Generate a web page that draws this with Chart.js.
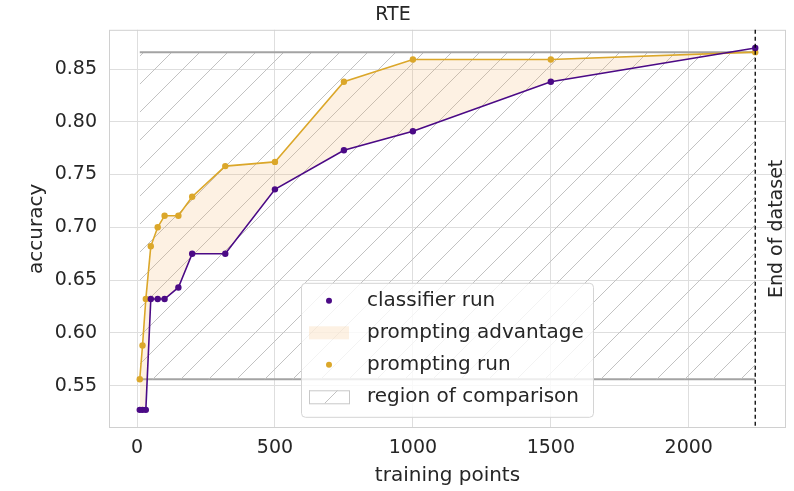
<!DOCTYPE html>
<html><head><meta charset="utf-8">
<script src="https://cdn.jsdelivr.net/npm/chart.js@4.4.1/dist/chart.umd.min.js"></script>
<style>html,body{margin:0;padding:0;background:#fff;} #wrap{width:794px;height:491px;}</style>
</head><body><div id="wrap"><canvas id="c" width="794" height="491"></canvas></div>
<script>
// ---- data ----
const trainingPoints = [10, 20, 32, 50, 75, 100, 150, 200, 320, 500, 750, 1000, 1500, 2241];
const classifierAcc  = [0.527, 0.527, 0.527, 0.632, 0.632, 0.632, 0.643, 0.675, 0.675, 0.736, 0.773, 0.791, 0.838, 0.870];
const promptingAcc   = [0.556, 0.588, 0.632, 0.682, 0.700, 0.711, 0.711, 0.729, 0.758, 0.762, 0.838, 0.859, 0.859, 0.866];
const regionX = [10, 2241];
const regionY = [0.556, 0.866];
const endOfDataset = 2241;
const xTicks = [0, 500, 1000, 1500, 2000];
const yTicks = [0.55, 0.60, 0.65, 0.70, 0.75, 0.80, 0.85];
const legendLabels = ['classifier run', 'prompting advantage', 'prompting run', 'region of comparison'];
const titleText = 'RTE';
const xTitle = 'training points';
const yTitle = 'accuracy';
const endLabel = 'End of dataset';

// ---- styles ----
const FONT = '"DejaVu Sans", sans-serif';
const PURPLE = '#4b0a86';
const GOLD = '#dba72a';
const PEACH = 'rgba(245,180,100,0.18)';
const REGION_LINE = '#a3a3a3';
const TEXT = '#262626';
const GRID = '#dedede';

const canvas = document.getElementById('c');
const ctx = canvas.getContext('2d');
function makeHatch() {
  const s = 28;
  const c = document.createElement('canvas');
  c.width = s; c.height = s;
  const g = c.getContext('2d');
  g.strokeStyle = '#c2c2c2';
  g.lineWidth = 1;
  g.beginPath();
  g.moveTo(0, s); g.lineTo(s, 0);
  g.moveTo(-3, 3); g.lineTo(3, -3);
  g.moveTo(s - 3, s + 3); g.lineTo(s + 3, s - 3);
  g.stroke();
  return ctx.createPattern(c, 'repeat');
}
const HATCH = makeHatch();

const toPts = (xs, ys) => xs.map((x, i) => ({ x: x, y: ys[i] }));

const extras = {
  id: 'extras',
  beforeDatasetsDraw(chart) {
    const { ctx, chartArea: a } = chart;
    ctx.save();
    ctx.strokeStyle = '#d0d0d0';
    ctx.lineWidth = 1;
    ctx.strokeRect(a.left + 0.5, a.top + 0.5, a.right - a.left - 1, a.bottom - a.top - 1);
    ctx.restore();
  },
  afterDatasetsDraw(chart) {
    const { ctx, chartArea: a, scales } = chart;
    const px = scales.x.getPixelForValue(endOfDataset);
    ctx.save();
    ctx.strokeStyle = '#000';
    ctx.lineWidth = 1.3;
    ctx.setLineDash([4, 3]);
    ctx.beginPath();
    ctx.moveTo(px, a.top); ctx.lineTo(px, a.bottom);
    ctx.stroke();
    ctx.setLineDash([]);
    ctx.translate(px + 22, (a.top + a.bottom) / 2);
    ctx.rotate(-Math.PI / 2);
    ctx.font = '19px ' + FONT;
    ctx.fillStyle = TEXT;
    ctx.textAlign = 'center';
    ctx.textBaseline = 'middle';
    ctx.fillText(endLabel, 0, 0);
    ctx.restore();
  },
  afterDraw(chart) {
    const { ctx, chartArea: a } = chart;
    const bx = a.left + 192, by = a.top + 253, bw = 292, bh = 134;
    ctx.save();
    ctx.beginPath();
    ctx.roundRect(bx + 0.5, by + 0.5, bw, bh, 4);
    ctx.fillStyle = 'rgba(255,255,255,0.8)';
    ctx.fill();
    ctx.strokeStyle = '#d4d4d4';
    ctx.lineWidth = 1;
    ctx.stroke();
    const mx = bx + 28, tx = bx + 66;
    const rowY = i => by + 18 + i * 32;
    ctx.font = '20px ' + FONT;
    ctx.fillStyle = TEXT;
    ctx.textBaseline = 'middle';
    ctx.textAlign = 'left';
    legendLabels.forEach((t, i) => { ctx.fillStyle = TEXT; ctx.fillText(t, tx, rowY(i)); });
    // markers
    ctx.fillStyle = PURPLE;
    ctx.beginPath(); ctx.arc(mx, rowY(0), 3, 0, Math.PI * 2); ctx.fill();
    ctx.fillStyle = PEACH;
    ctx.fillRect(mx - 20, rowY(1) - 6.5, 40, 13);
    ctx.fillStyle = GOLD;
    ctx.beginPath(); ctx.arc(mx, rowY(2), 3, 0, Math.PI * 2); ctx.fill();
    ctx.fillStyle = HATCH;
    ctx.fillRect(mx - 20, rowY(3) - 6.5, 40, 13);
    ctx.strokeStyle = '#c8c8c8';
    ctx.strokeRect(mx - 20 + 0.5, rowY(3) - 6.5 + 0.5, 40, 13);
    ctx.restore();
  }
};

new Chart(ctx, {
  type: 'line',
  data: {
    datasets: [
      { label: legendLabels[0], data: toPts(trainingPoints, classifierAcc), borderColor: PURPLE, backgroundColor: PURPLE,
        borderWidth: 1.6, pointRadius: 3.2, pointBorderWidth: 0, fill: false, tension: 0 },
      { label: legendLabels[2], data: toPts(trainingPoints, promptingAcc), borderColor: GOLD, backgroundColor: GOLD,
        borderWidth: 1.6, pointRadius: 3.2, pointBorderWidth: 0, tension: 0,
        fill: { target: 0, above: PEACH, below: 'rgba(0,0,0,0)' } },
      { label: 'region top', data: toPts(regionX, [regionY[1], regionY[1]]), borderColor: REGION_LINE, backgroundColor: HATCH,
        borderWidth: 2, pointRadius: 0, fill: { target: 3 } },
      { label: 'region bottom', data: toPts(regionX, [regionY[0], regionY[0]]), borderColor: REGION_LINE,
        borderWidth: 2, pointRadius: 0, fill: false }
    ]
  },
  options: {
    responsive: false,
    animation: false,
    events: [],
    layout: { padding: { left: 0, right: 8, top: 0, bottom: 0 } },
    plugins: {
      legend: { display: false },
      tooltip: { enabled: false },
      title: { display: true, text: titleText, color: TEXT, font: { family: FONT, size: 19, weight: 'normal' }, padding: { top: 4, bottom: 3 } }
    },
    scales: {
      x: {
        type: 'linear', min: -101.5, max: 2352.5,
        afterBuildTicks: s => { s.ticks = xTicks.map(v => ({ value: v })); },
        afterFit: s => { s.height = 63; },
        ticks: { color: TEXT, font: { family: FONT, size: 19 }, padding: 9, maxRotation: 0, callback: v => String(v) },
        grid: { color: GRID, drawTicks: false, lineWidth: 1 },
        border: { display: false },
        title: { display: true, text: xTitle, color: TEXT, font: { family: FONT, size: 20 }, padding: { top: 3, bottom: 3 } }
      },
      y: {
        type: 'linear', min: 0.5098, max: 0.8872,
        afterBuildTicks: s => { s.ticks = yTicks.map(v => ({ value: v })); },
        afterFit: s => { s.width = 109; },
        ticks: { color: TEXT, font: { family: FONT, size: 19 }, padding: 12, callback: v => v.toFixed(2) },
        grid: { color: GRID, drawTicks: false, lineWidth: 1 },
        border: { display: false },
        title: { display: true, text: yTitle, color: TEXT, font: { family: FONT, size: 20 }, padding: { top: 25, bottom: 25 } }
      }
    }
  },
  plugins: [extras]
});
</script></body></html>
